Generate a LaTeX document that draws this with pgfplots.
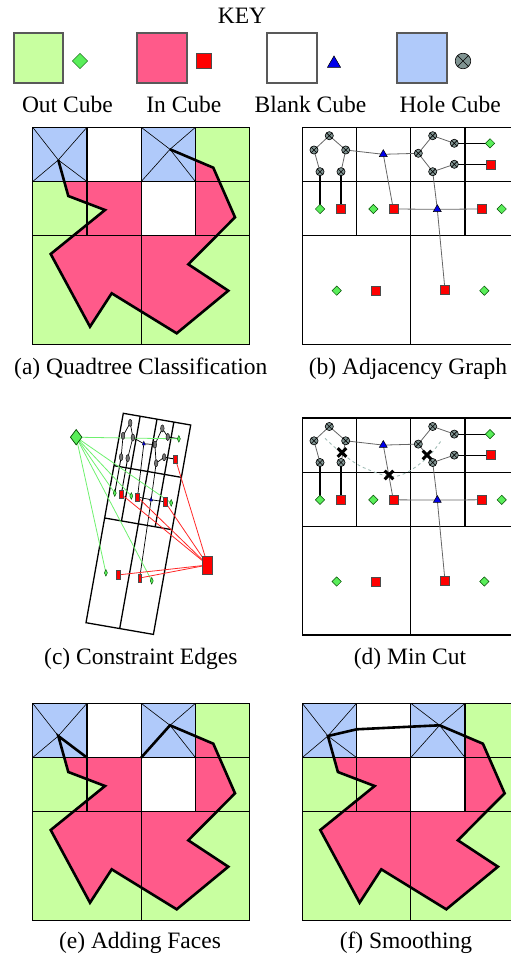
\documentclass[border=0pt]{standalone}
\usepackage{fontspec}
\setmainfont{Liberation Serif}
\usepackage{pgfplots}
\pgfplotsset{compat=1.18}
\usetikzlibrary{plotmarks}

\definecolor{cgreen}{RGB}{200,255,160}
\definecolor{cpink}{RGB}{255,90,138}
\definecolor{cblue}{RGB}{176,202,250}
\definecolor{mgreen}{RGB}{90,238,90}
\definecolor{mblue}{RGB}{0,0,235}
\definecolor{mhole}{RGB}{128,148,146}
\definecolor{lgreen}{RGB}{110,240,110}
\definecolor{lred}{RGB}{255,40,40}
\definecolor{cutc}{RGB}{160,188,182}

\pgfplotsset{
  gridl/.style={black, line width=1.3bp},
  thinx/.style={black, line width=0.6bp},
  outl/.style={black, line width=2.6bp, line join=miter},
  gedge/.style={black!60, line width=0.8bp},
  bedge/.style={black, line width=1.2bp},
  kbox/.style={draw=black!65, line width=1.2bp},
  gm/.style={only marks, mark=square*, mark options={rotate=45, fill=mgreen, draw=black!70!green, line width=0.5bp}},
  rm/.style={only marks, mark=square*, mark options={fill=red, draw=black!70, line width=0.5bp}},
  tm/.style={only marks, mark=triangle*, mark options={fill=mblue, draw=black, line width=0.5bp}},
  hm/.style={only marks, mark=otimes*, mark options={fill=mhole, draw=black, line width=0.6bp}},
}

% one segment / one rectangle
\newcommand{\seg}[5][]{\addplot[#1] coordinates {(#2,#3) (#4,#5)};}
\newcommand{\cell}[5]{\addplot[#1] coordinates {(#2,#3) (#4,#3) (#4,#5) (#2,#5)} -- cycle;}

\begin{document}
\fontsize{23.5bp}{28bp}\selectfont
\begin{tikzpicture}
\begin{axis}[
    width=511bp, height=957bp, scale only axis,
    xmin=0, xmax=511, ymin=0, ymax=957, y dir=reverse,
    hide axis, clip=true,
  ]
  \coordinate (SW) at (axis cs:0,957);
  \coordinate (NE) at (axis cs:511,0);

  % ---------------- KEY
  \node[anchor=base] at (axis cs:242,24) {KEY};
  \cell{kbox, fill=cgreen}{14}{33}{63}{83}
  \cell{kbox, fill=cpink}{137}{33}{187}{83}
  \cell{kbox, fill=white}{267}{33}{317}{83}
  \cell{kbox, fill=cblue}{397}{33}{447}{83}
  \addplot[gm, mark size=5.4] coordinates {(80,61)};
  \addplot[rm, mark size=7.6] coordinates {(204,61)};
  \addplot[tm, mark size=7.6] coordinates {(334,63.5)};
  \addplot[hm, mark size=7.8] coordinates {(463,61)};
  \node[anchor=base west] at (axis cs:14,112.7) {Out Cube};
  \node[anchor=base west] at (axis cs:138.3,112.7) {In Cube};
  \node[anchor=base west] at (axis cs:246.7,112.7) {Blank Cube};
  \node[anchor=base west] at (axis cs:391.7,112.7) {Hole Cube};

  % ---------------- (a) Quadtree Classification
  \cell{draw=none, fill=cgreen}{32.7}{127.3}{249.7}{344.3}
  \addplot[draw=none, fill=cpink] coordinates {
    (58.3,160.0) (68.3,196.0) (105.0,210.0) (50.7,254.0) (90.0,326.7) (111.7,293.3)
    (176.7,333.3) (228.3,290.7) (188.3,264.3) (235.0,217.3) (213.3,167.7) (170.0,149.3)};
  \cell{draw=none, fill=cblue}{32.7}{127.3}{86.95}{181.55}
  \cell{draw=none, fill=cblue}{141.2}{127.3}{195.45}{181.55}
  \cell{draw=none, fill=white}{86.95}{127.3}{141.2}{181.55}
  \cell{draw=none, fill=white}{141.2}{181.55}{195.45}{235.8}
  \addplot[thinx] coordinates {(32.7,127.3) (58.3,160.0) (86.95,181.55)};
  \addplot[thinx] coordinates {(86.95,127.3) (58.3,160.0) (32.7,181.55)};
  \addplot[thinx] coordinates {(141.2,127.3) (170.0,149.3) (195.45,181.55)};
  \addplot[thinx] coordinates {(195.45,127.3) (170.0,149.3) (141.2,181.55)};
  \cell{gridl}{32.7}{127.3}{249.7}{344.3}
  \seg[gridl]{32.7}{181.55}{249.7}{181.55}
  \seg[gridl]{32.7}{235.8}{249.7}{235.8}
  \seg[gridl]{141.2}{127.3}{141.2}{344.3}
  \seg[gridl]{86.95}{127.3}{86.95}{235.8}
  \seg[gridl]{195.45}{127.3}{195.45}{235.8}
  \addplot[outl] coordinates {
    (58.3,160.0) (68.3,196.0) (105.0,210.0) (50.7,254.0) (90.0,326.7) (111.7,293.3)
    (176.7,333.3) (228.3,290.7) (188.3,264.3) (235.0,217.3) (213.3,167.7) (170.0,149.3)};
  \node[anchor=base] at (axis cs:140.8,374) {(a) Quadtree Classification};

  % ---------------- (b) Adjacency Graph
  \cell{gridl}{302.3}{127.3}{519.3}{344.3}
  \seg[gridl]{302.3}{181.55}{519.3}{181.55}
  \seg[gridl]{302.3}{235.8}{519.3}{235.8}
  \seg[gridl]{410.8}{127.3}{410.8}{344.3}
  \seg[gridl]{356.55}{127.3}{356.55}{235.8}
  \seg[gridl]{465.05}{127.3}{465.05}{235.8}
  \addplot[gedge] coordinates {(320,171.7) (314,150) (329.3,135.7) (345.7,150) (341,171.7)};
  \addplot[gedge] coordinates {(345.7,150) (383.3,154.3) (418.3,153.3)};
  \addplot[gedge] coordinates {(454.3,143.3) (432.7,135.7) (418.3,153.3) (432.7,171.7) (454.3,164.3)};
  \addplot[gedge] coordinates {(383.3,154.3) (393.3,209) (437.3,209.3) (481.7,209)};
  \addplot[gedge] coordinates {(432.7,171.7) (437.3,209.3) (445,290)};
  \seg[bedge]{320}{171.7}{320}{209}
  \seg[bedge]{341}{171.7}{341}{209}
  \seg[bedge]{454.3}{143.3}{490}{143.3}
  \seg[bedge]{454.3}{164.3}{490.7}{164.3}
  \addplot[hm, mark size=4.1] coordinates {(329.3,135.7) (314,150) (345.7,150) (320,171.7) (341,171.7)
    (432.7,135.7) (418.3,153.3) (454.3,143.3) (432.7,171.7) (454.3,164.3)};
  \addplot[gm, mark size=3.3] coordinates {(490,143.3) (320,209) (373.3,209) (501.7,209) (336.7,290.7) (484.3,290.7)};
  \addplot[rm, mark size=4.5] coordinates {(490.7,164.3) (341,209) (393.3,209) (481.7,209) (375.7,290.7) (445,290)};
  \addplot[tm, mark size=4.6] coordinates {(383.3,154.3) (437.3,209.3)};
  \node[anchor=base] at (axis cs:408,374) {(b) Adjacency Graph};

  % ---------------- (c) Constraint Edges
  \addplot[gridl] coordinates {(123.3,413.3) (190.7,425.0) (153.4,634.4) (86.0,622.7)} -- cycle;
  \seg[gridl]{113.98}{465.65}{181.38}{477.35}
  \seg[gridl]{104.65}{518.0}{172.05}{529.7}
  \seg[gridl]{157.0}{419.15}{119.7}{628.55}
  \seg[gridl]{140.15}{416.23}{121.5}{520.93}
  \seg[gridl]{173.85}{422.08}{155.2}{526.78}
  \addplot[black, line width=0.7bp] coordinates {(121.17,457.09) (123.03,435.83) (130.25,422.86) (132.88,437.54) (127.69,458.23)};
  \addplot[black, line width=0.7bp] coordinates {(132.88,437.54) (143.82,443.72) (154.86,444.64)};
  \addplot[black, line width=0.7bp] coordinates {(167.76,436.93) (162.36,428.43) (154.86,444.64) (156.17,463.17) (164.15,457.2)};
  \addplot[black, line width=0.7bp] coordinates {(143.82,443.72) (137.53,497.05) (151.13,499.71) (164.98,501.81)};
  \addplot[black, line width=0.7bp] coordinates {(156.17,463.17) (151.13,499.71) (139.65,578.0)};
  \seg[black, line width=0.9bp]{121.17}{457.09}{114.76}{493.09}
  \seg[black, line width=0.9bp]{127.69}{458.23}{121.28}{494.23}
  \seg[black, line width=0.9bp]{167.76}{436.93}{178.85}{438.85}
  \seg[black, line width=0.9bp]{164.15}{457.2}{175.46}{459.16}
  % constraint edges to the source / sink
  \seg[lgreen, line width=0.8bp]{76.2}{437.2}{178.85}{438.85}
  \seg[lgreen, line width=0.8bp]{76.2}{437.2}{114.76}{493.09}
  \seg[lgreen, line width=0.8bp]{76.2}{437.2}{131.31}{495.97}
  \seg[lgreen, line width=0.8bp]{76.2}{437.2}{171.19}{502.89}
  \seg[lgreen, line width=0.8bp]{76.2}{437.2}{105.89}{572.83}
  \seg[lgreen, line width=0.8bp]{76.2}{437.2}{151.74}{580.79}
  \seg[lred, line width=0.8bp]{207.7}{565}{175.46}{459.16}
  \seg[lred, line width=0.8bp]{207.7}{565}{121.28}{494.23}
  \seg[lred, line width=0.8bp]{207.7}{565}{137.53}{497.05}
  \seg[lred, line width=0.8bp]{207.7}{565}{164.98}{501.81}
  \seg[lred, line width=0.8bp]{207.7}{565}{118.01}{574.94}
  \seg[lred, line width=0.8bp]{207.7}{565}{139.65}{578.0}
  \addplot[only marks, mark=*, mark size=3.6, mark options={xscale=0.5, fill=black!55, draw=black, line width=0.4bp}]
    coordinates {(130.25,422.86) (123.03,435.83) (132.88,437.54) (121.17,457.09) (127.69,458.23)
    (162.36,428.43) (154.86,444.64) (167.76,436.93) (156.17,463.17) (164.15,457.2)};
  \addplot[only marks, mark=diamond*, mark size=3.4, mark options={xscale=0.6, fill=mgreen, draw=black!70!green, line width=0.4bp}]
    coordinates {(178.85,438.85) (114.76,493.09) (131.31,495.97) (171.19,502.89) (105.89,572.83) (151.74,580.79)};
  \addplot[only marks, mark=square*, mark size=4.3, mark options={xscale=0.45, fill=red, draw=black!70, line width=0.4bp}]
    coordinates {(175.46,459.16) (121.28,494.23) (137.53,497.05) (164.98,501.81) (118.01,574.94) (139.65,578.0)};
  \addplot[only marks, mark=triangle*, mark size=2.6, mark options={xscale=0.7, fill=mblue, draw=black, line width=0.3bp}]
    coordinates {(143.82,443.72) (151.13,499.71)};
  \addplot[only marks, mark=diamond*, mark size=7.7, mark options={fill=mgreen, draw=black!70!green, line width=0.7bp}]
    coordinates {(76.2,437.2)};
  \addplot[only marks, mark=square*, mark size=9, mark options={xscale=0.55, fill=red, draw=black!70, line width=0.8bp}]
    coordinates {(207.7,565)};
  \node[anchor=base] at (axis cs:140.8,664.3) {(c) Constraint Edges};

  % ---------------- (d) Min Cut
  \cell{gridl}{302.3}{418.1}{519.3}{635.1}
  \seg[gridl]{302.3}{472.35}{519.3}{472.35}
  \seg[gridl]{302.3}{526.6}{519.3}{526.6}
  \seg[gridl]{410.8}{418.1}{410.8}{635.1}
  \seg[gridl]{356.55}{418.1}{356.55}{526.6}
  \seg[gridl]{465.05}{418.1}{465.05}{526.6}
  \addplot[gedge] coordinates {(320,462.5) (314,440.8) (329.3,426.5) (345.7,440.8) (341,462.5)};
  \addplot[gedge] coordinates {(345.7,440.8) (383.3,445.1) (418.3,444.1)};
  \addplot[gedge] coordinates {(454.3,434.1) (432.7,426.5) (418.3,444.1) (432.7,462.5) (454.3,455.1)};
  \addplot[gedge] coordinates {(383.3,445.1) (393.3,499.8) (437.3,500.1) (481.7,499.8)};
  \addplot[gedge] coordinates {(432.7,462.5) (437.3,500.1) (445,580.8)};
  \seg[bedge]{320}{462.5}{320}{499.8}
  \seg[bedge]{341}{462.5}{341}{499.8}
  \seg[bedge]{454.3}{434.1}{490}{434.1}
  \seg[bedge]{454.3}{455.1}{490.7}{455.1}
  \addplot[cutc, dashed, line width=0.9bp, smooth] coordinates {
    (325,438.3) (341.7,453.3) (361.7,466.7) (390,476.7) (408.3,471.7) (428.3,456.7) (441.7,440)};
  \addplot[hm, mark size=4.1] coordinates {(329.3,426.5) (314,440.8) (345.7,440.8) (320,462.5) (341,462.5)
    (432.7,426.5) (418.3,444.1) (454.3,434.1) (432.7,462.5) (454.3,455.1)};
  \addplot[gm, mark size=3.3] coordinates {(490,434.1) (320,499.8) (373.3,499.8) (501.7,499.8) (336.7,581.5) (484.3,581.5)};
  \addplot[rm, mark size=4.5] coordinates {(490.7,455.1) (341,499.8) (393.3,499.8) (481.7,499.8) (375.7,581.5) (445,580.8)};
  \addplot[tm, mark size=4.6] coordinates {(383.3,445.1) (437.3,500.1)};
  \addplot[only marks, mark=x, mark size=6.2, mark options={black, line width=3bp}]
    coordinates {(342,452.5) (389,475) (427,455)};
  \node[anchor=base] at (axis cs:410,664.3) {(d) Min Cut};

  % ---------------- (e) Adding Faces
  \cell{draw=none, fill=cgreen}{32.7}{703.3}{249.7}{920.3}
  \addplot[draw=none, fill=cpink] coordinates {
    (58.3,736.0) (68.3,772.0) (105.0,786.0) (50.7,830.0) (90.0,902.7) (111.7,869.3)
    (176.7,909.3) (228.3,866.7) (188.3,840.3) (235.0,793.3) (213.3,743.7) (170.0,725.3)};
  \cell{draw=none, fill=cblue}{32.7}{703.3}{86.95}{757.55}
  \cell{draw=none, fill=cblue}{141.2}{703.3}{195.45}{757.55}
  \cell{draw=none, fill=white}{86.95}{703.3}{141.2}{757.55}
  \cell{draw=none, fill=white}{141.2}{757.55}{195.45}{811.8}
  \addplot[thinx] coordinates {(32.7,703.3) (58.3,736.0) (86.95,757.55)};
  \addplot[thinx] coordinates {(86.95,703.3) (58.3,736.0) (32.7,757.55)};
  \addplot[thinx] coordinates {(141.2,703.3) (170.0,725.3) (195.45,757.55)};
  \addplot[thinx] coordinates {(195.45,703.3) (170.0,725.3) (141.2,757.55)};
  \cell{gridl}{32.7}{703.3}{249.7}{920.3}
  \seg[gridl]{32.7}{757.55}{249.7}{757.55}
  \seg[gridl]{32.7}{811.8}{249.7}{811.8}
  \seg[gridl]{141.2}{703.3}{141.2}{920.3}
  \seg[gridl]{86.95}{703.3}{86.95}{811.8}
  \seg[gridl]{195.45}{703.3}{195.45}{811.8}
  \addplot[outl] coordinates {
    (86.95,757.55) (58.3,736.0) (68.3,772.0) (105.0,786.0) (50.7,830.0) (90.0,902.7) (111.7,869.3)
    (176.7,909.3) (228.3,866.7) (188.3,840.3) (235.0,793.3) (213.3,743.7) (170.0,725.3) (141.2,757.55)};
  \node[anchor=base] at (axis cs:140,948) {(e) Adding Faces};

  % ---------------- (f) Smoothing
  \cell{draw=none, fill=cgreen}{302.3}{703.3}{519.3}{920.3}
  \addplot[draw=none, fill=cpink] coordinates {
    (327.9,736.0) (337.9,772.0) (374.6,786.0) (320.3,830.0) (359.6,902.7) (381.3,869.3)
    (446.3,909.3) (497.9,866.7) (457.9,840.3) (504.6,793.3) (482.9,743.7) (439.6,725.3)};
  \cell{draw=none, fill=cblue}{302.3}{703.3}{356.55}{757.55}
  \cell{draw=none, fill=cblue}{410.8}{703.3}{465.05}{757.55}
  \cell{draw=none, fill=white}{356.55}{703.3}{410.8}{757.55}
  \cell{draw=none, fill=white}{410.8}{757.55}{465.05}{811.8}
  \addplot[thinx] coordinates {(302.3,703.3) (327.9,736.0) (356.55,757.55)};
  \addplot[thinx] coordinates {(356.55,703.3) (327.9,736.0) (302.3,757.55)};
  \addplot[thinx] coordinates {(410.8,703.3) (439.6,725.3) (465.05,757.55)};
  \addplot[thinx] coordinates {(465.05,703.3) (439.6,725.3) (410.8,757.55)};
  \cell{gridl}{302.3}{703.3}{519.3}{920.3}
  \seg[gridl]{302.3}{757.55}{519.3}{757.55}
  \seg[gridl]{302.3}{811.8}{519.3}{811.8}
  \seg[gridl]{410.8}{703.3}{410.8}{920.3}
  \seg[gridl]{356.55}{703.3}{356.55}{811.8}
  \seg[gridl]{465.05}{703.3}{465.05}{811.8}
  \addplot[outl] coordinates {
    (439.6,725.3) (410.0,726.7) (356.7,729.3) (327.9,736.0) (337.9,772.0) (374.6,786.0) (320.3,830.0)
    (359.6,902.7) (381.3,869.3) (446.3,909.3) (497.9,866.7) (457.9,840.3) (504.6,793.3)
    (482.9,743.7) (439.6,725.3)};
  \node[anchor=base] at (axis cs:406,948) {(f) Smoothing};
\end{axis}
\pgfresetboundingbox
\path (SW) rectangle (NE);
\end{tikzpicture}
\end{document}
